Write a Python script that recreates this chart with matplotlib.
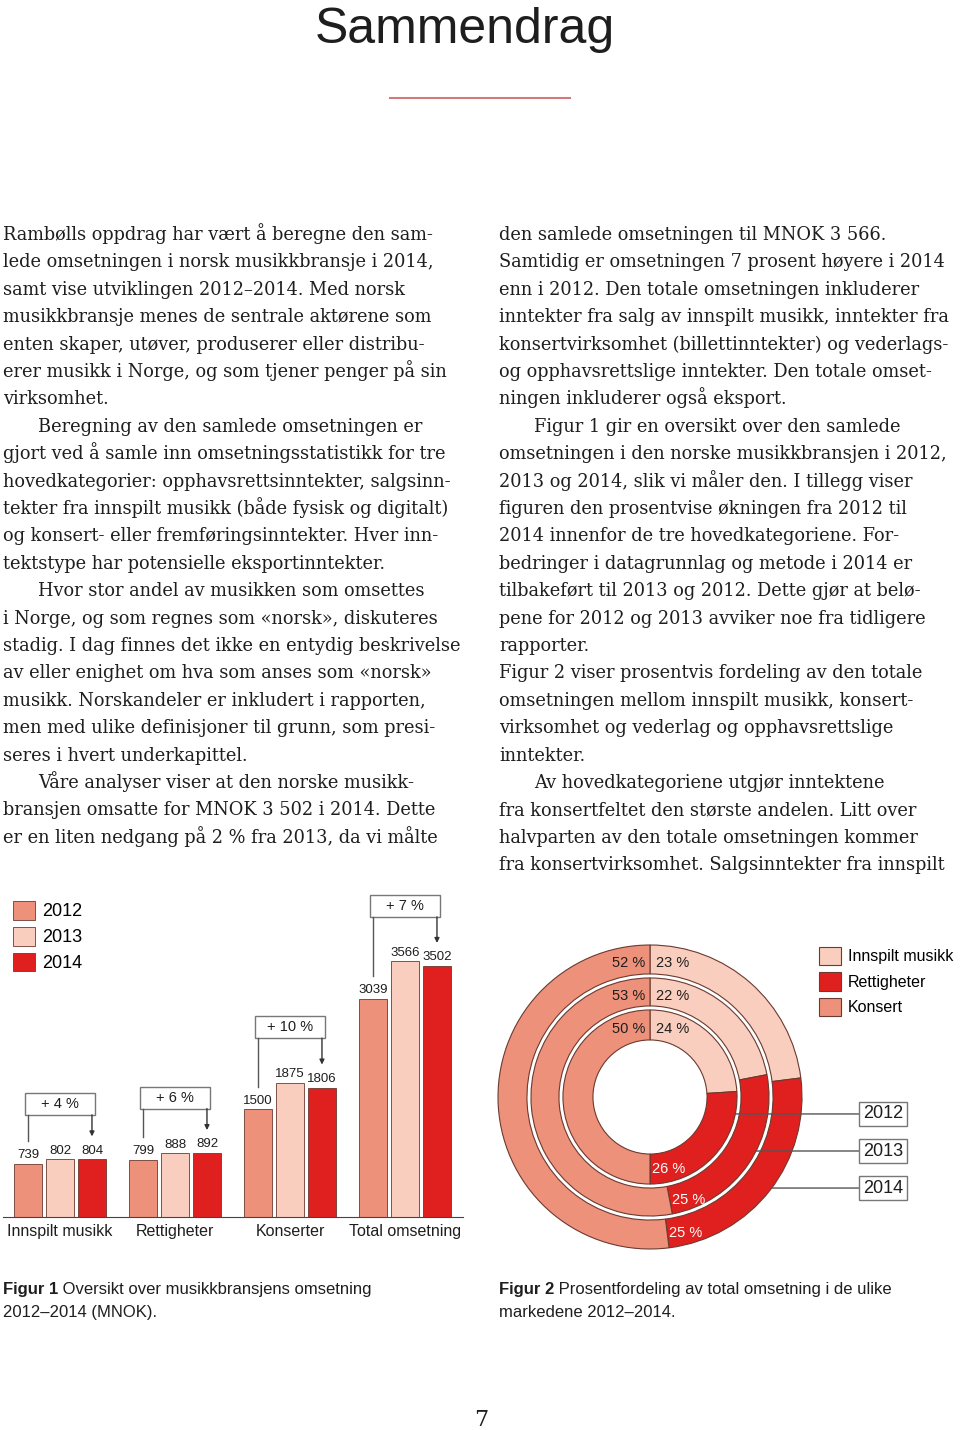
import numpy as np
import matplotlib
matplotlib.use('Agg')
import matplotlib.pyplot as plt
from matplotlib.patches import Rectangle

W, H = 960, 1430

# ---- data -------------------------------------------------------------
categories = ['Innspilt musikk', 'Rettigheter', 'Konserter', 'Total omsetning']
years = ['2012', '2013', '2014']
mnok_2012 = [739, 799, 1500, 3039]
mnok_2013 = [802, 888, 1875, 3566]
mnok_2014 = [804, 892, 1806, 3502]
growth = ['+ 4 %', '+ 6 %', '+ 10 %', '+ 7 %']

share_labels = ['Innspilt musikk', 'Rettigheter', 'Konsert']
share_2012 = [24, 26, 50]
share_2013 = [22, 25, 53]
share_2014 = [23, 25, 52]

# lines starting with '>' are indented
left_col = [
    'Rambølls oppdrag har vært å beregne den sam-',
    'lede omsetningen i norsk musikkbransje i 2014,',
    'samt vise utviklingen 2012–2014. Med norsk',
    'musikkbransje menes de sentrale aktørene som',
    'enten skaper, utøver, produserer eller distribu-',
    'erer musikk i Norge, og som tjener penger på sin',
    'virksomhet.',
    '>Beregning av den samlede omsetningen er',
    'gjort ved å samle inn omsetningsstatistikk for tre',
    'hovedkategorier: opphavsrettsinntekter, salgsinn-',
    'tekter fra innspilt musikk (både fysisk og digitalt)',
    'og konsert- eller fremføringsinntekter. Hver inn-',
    'tektstype har potensielle eksportinntekter.',
    '>Hvor stor andel av musikken som omsettes',
    'i Norge, og som regnes som «norsk», diskuteres',
    'stadig. I dag finnes det ikke en entydig beskrivelse',
    'av eller enighet om hva som anses som «norsk»',
    'musikk. Norskandeler er inkludert i rapporten,',
    'men med ulike definisjoner til grunn, som presi-',
    'seres i hvert underkapittel.',
    '>Våre analyser viser at den norske musikk-',
    'bransjen omsatte for MNOK 3 502 i 2014. Dette',
    'er en liten nedgang på 2 % fra 2013, da vi målte',
]
right_col = [
    'den samlede omsetningen til MNOK 3 566.',
    'Samtidig er omsetningen 7 prosent høyere i 2014',
    'enn i 2012. Den totale omsetningen inkluderer',
    'inntekter fra salg av innspilt musikk, inntekter fra',
    'konsertvirksomhet (billettinntekter) og vederlags-',
    'og opphavsrettslige inntekter. Den totale omset-',
    'ningen inkluderer også eksport.',
    '>Figur 1 gir en oversikt over den samlede',
    'omsetningen i den norske musikkbransjen i 2012,',
    '2013 og 2014, slik vi måler den. I tillegg viser',
    'figuren den prosentvise økningen fra 2012 til',
    '2014 innenfor de tre hovedkategoriene. For-',
    'bedringer i datagrunnlag og metode i 2014 er',
    'tilbakeført til 2013 og 2012. Dette gjør at belø-',
    'pene for 2012 og 2013 avviker noe fra tidligere',
    'rapporter.',
    'Figur 2 viser prosentvis fordeling av den totale',
    'omsetningen mellom innspilt musikk, konsert-',
    'virksomhet og vederlag og opphavsrettslige',
    'inntekter.',
    '>Av hovedkategoriene utgjør inntektene',
    'fra konsertfeltet den største andelen. Litt over',
    'halvparten av den totale omsetningen kommer',
    'fra konsertvirksomhet. Salgsinntekter fra innspilt',
]

c_2012 = '#ee917a'
c_2013 = '#f9cebe'
c_2014 = '#e0201e'
edge = '#6b3a30'
ink = '#1e1e1e'
sans = 'Liberation Sans'
serif = 'DejaVu Serif'


def fx(x):
    return x / W


def fy(y):
    return 1 - y / H


fig = plt.figure(figsize=(W / 100, H / 100), dpi=100)

# ---- title and body text ---------------------------------------------
fig.text(fx(465), fy(43), 'Sammendrag', family=sans, fontsize=36,
         ha='center', va='baseline', color=ink)
fig.add_artist(plt.Line2D([fx(390), fx(570)], [fy(98), fy(98)],
                          color='#d47a7a', lw=1.5))

for x0, lines in [(3, left_col), (499, right_col)]:
    for i, line in enumerate(lines):
        x = x0
        if line.startswith('>'):
            line = line[1:]
            x += 35
        fig.text(fx(x), fy(240 + i * 27.4), line, family=serif,
                 fontsize=12.8, va='baseline', color=ink)

fig.text(fx(481), fy(1426), '7', family=serif, fontsize=16,
         ha='center', va='baseline', color=ink)

# ---- figure 1: bar chart ----------------------------------------------
ax = fig.add_axes([0, fy(1217), 480 / W, (1217 - 890) / H])
ax.set_xlim(-60 / 115, 420 / 115)
ax.set_ylim(0, 327 / 0.0717)

x = np.arange(len(categories))
off = 0.278
bw = 0.245
series = [mnok_2012, mnok_2013, mnok_2014]
colors = [c_2012, c_2013, c_2014]
containers = []
for k, (vals, col) in enumerate(zip(series, colors)):
    bc = ax.bar(x + (k - 1) * off, vals, bw, color=col, edgecolor=edge,
                linewidth=0.6, label=years[k])
    ax.bar_label(bc, padding=2, fontsize=9.5, family=sans, color=ink)
    containers.append(bc)

for i in range(len(categories)):
    top = max(mnok_2012[i], mnok_2013[i], mnok_2014[i])
    bottom = top + 620
    xl = i - off
    xr = i + off
    pad = 3 / 115
    ax.add_patch(Rectangle((xl - pad, bottom), xr - xl + 2 * pad, 307,
                           facecolor='white', edgecolor='#777777', lw=1,
                           clip_on=False))
    ax.text(i, bottom + 150, growth[i], ha='center', va='center',
            fontsize=10.5, family=sans, color=ink)
    ax.plot([xl, xl], [bottom, mnok_2012[i] + 320], color='#555555', lw=1)
    ax.annotate('', xy=(xr, mnok_2014[i] + 320), xytext=(xr, bottom),
                arrowprops=dict(arrowstyle='-|>', color='#333333', lw=1,
                                mutation_scale=7, shrinkA=0, shrinkB=0))

for s in ['top', 'left', 'right']:
    ax.spines[s].set_visible(False)
ax.spines['bottom'].set_bounds(-0.5, 3.5)
ax.spines['bottom'].set_color('#444444')
ax.set_yticks([])
ax.set_xticks(x, categories)
ax.tick_params(axis='x', length=0, pad=5, labelsize=11.5, labelcolor=ink)
for t in ax.get_xticklabels():
    t.set_family(sans)
ax.patch.set_alpha(0)

ax.legend(containers, years, loc='upper left',
          bbox_to_anchor=(fx(13), fy(901)), bbox_transform=fig.transFigure,
          frameon=False, borderpad=0, borderaxespad=0,
          handlelength=1.22, handleheight=1.22, handletextpad=0.4,
          labelspacing=0.35, prop={'family': sans, 'size': 13})

# ---- figure 2: donut ----------------------------------------------------
ax2 = fig.add_axes([fx(490), fy(1257), 470 / W, 320 / H])
rings = [  # (values, outer radius, width)
    (share_2014, 0.95, 0.181),
    (share_2013, 0.744, 0.175),
    (share_2012, 0.544, 0.1875),
]
pie_colors = [c_2013, c_2014, c_2012]
outer_wedges = None
for vals, R, w in rings:
    wedges, _ = ax2.pie(vals, radius=R, startangle=90, counterclock=False,
                        colors=pie_colors,
                        wedgeprops=dict(width=w, edgecolor=edge, linewidth=0.8))
    if outer_wedges is None:
        outer_wedges = wedges
    rm = R - w / 2
    ax2.text(-0.03, rm - 0.025, f'{vals[2]} %', ha='right', va='center',
             fontsize=10.5, family=sans, color=ink)
    ax2.text(0.035, rm - 0.025, f'{vals[0]} %', ha='left', va='center',
             fontsize=10.5, family=sans, color=ink)
    end = np.deg2rad((vals[0] + vals[1]) / 100 * 360)
    ax2.text(rm * np.sin(end) + 0.012, rm * np.cos(end), f'{vals[1]} %',
             ha='left', va='center', fontsize=10.5, family=sans, color='white')

ax2.set_xlim(-1, 1.9375)
ax2.set_ylim(-1, 1)
ax2.set_aspect('equal')
ax2.axis('off')

# year tags with leader lines
for (vals, R, w), yr, ly in zip(rings[::-1], years, [-0.106, -0.3375, -0.569]):
    xs = np.sqrt(R ** 2 - ly ** 2)
    ax2.annotate(yr, xy=(xs, ly), xytext=(1.456, ly), ha='center', va='center',
                 fontsize=13, family=sans, color=ink,
                 bbox=dict(boxstyle='square,pad=0.2', fc='white', ec='#777777', lw=1),
                 arrowprops=dict(arrowstyle='-', color='#555555', lw=1,
                                 shrinkA=0, shrinkB=0))

ax2.legend(outer_wedges, share_labels, loc='upper left',
           bbox_to_anchor=(fx(819), fy(947)), bbox_transform=fig.transFigure,
           frameon=False, borderpad=0, borderaxespad=0,
           handlelength=1.375, handleheight=1.375, handletextpad=0.45,
           labelspacing=0.45, prop={'family': sans, 'size': 11.5})

# ---- captions ------------------------------------------------------------
renderer = fig.canvas.get_renderer()
for x0, bold, rest, second in [
        (3, 'Figur 1', ' Oversikt over musikkbransjens omsetning', '2012–2014 (MNOK).'),
        (499, 'Figur 2', ' Prosentfordeling av total omsetning i de ulike', 'markedene 2012–2014.')]:
    t = fig.text(fx(x0), fy(1294), bold, family=sans, weight='bold',
                 fontsize=12, va='baseline', color=ink)
    bb = t.get_window_extent(renderer)
    fig.text(bb.x1 / W, fy(1294), rest, family=sans, fontsize=12,
             va='baseline', color=ink)
    fig.text(fx(x0), fy(1317), second, family=sans, fontsize=12,
             va='baseline', color=ink)

fig.savefig('out.png', dpi=100)
